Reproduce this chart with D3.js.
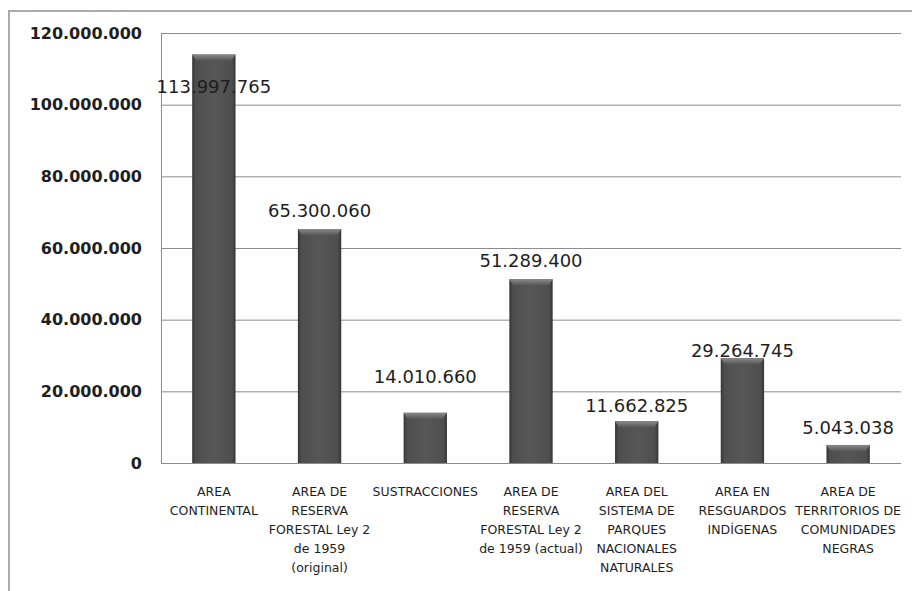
<!DOCTYPE html>
<meta charset="utf-8">

<style>
    body { margin: 0; background: #fff; }
    .chart text { fill: #1e1e1e; }
    .tick-label { font: bold 16px "DejaVu Sans", sans-serif; fill: #262626; }
    .value-label { font: 18px "DejaVu Sans", sans-serif; }
    .cat-label { font: 12.5px "DejaVu Sans", sans-serif; fill: #2a2a2a; }
</style>

<body>
<svg class="chart"></svg>
<script src="https://d3js.org/d3.v7.min.js"></script>

<script type="text/javascript">

    // data
    var categories = [
        ["AREA", "CONTINENTAL"],
        ["AREA DE", "RESERVA", "FORESTAL Ley 2", "de 1959", "(original)"],
        ["SUSTRACCIONES"],
        ["AREA DE", "RESERVA", "FORESTAL Ley 2", "de 1959 (actual)"],
        ["AREA DEL", "SISTEMA DE", "PARQUES", "NACIONALES", "NATURALES"],
        ["AREA EN", "RESGUARDOS", "INDÍGENAS"],
        ["AREA DE", "TERRITORIOS DE", "COMUNIDADES", "NEGRAS"]
    ];
    var values = [113997765, 65300060, 14010660, 51289400, 11662825, 29264745, 5043038];
    var yTicks = [0, 20000000, 40000000, 60000000, 80000000, 100000000, 120000000];

    // label baseline offsets above bar tops (as placed in the original)
    var labelLift = [-38, 12, 30, 12, 9, 1, 11];

    var w = 912, h = 591;
    var plot = {left: 161, right: 901, top: 33, bottom: 463};

    var fmt = function (v) {
        return d3.format(",")(v).replace(/,/g, ".");
    };

    var chart = d3.select(".chart")
        .attr("width", w)
        .attr("height", h);

    // outer frame (left and top edges only visible)
    chart.append("path")
        .attr("d", "M9,591 V11 H912")
        .attr("fill", "none")
        .attr("stroke", "#ababab")
        .attr("stroke-width", 2);

    var x = d3.scaleBand()
        .domain(d3.range(values.length))
        .range([plot.left, plot.right])
        .paddingInner(0.59)
        .paddingOuter(0.295);

    var y = d3.scaleLinear()
        .domain([0, 120000000])
        .range([plot.bottom, plot.top]);

    // gradients for the bevelled bars
    var defs = chart.append("defs");
    var g1 = defs.append("linearGradient").attr("id", "barfill")
        .attr("x1", 0).attr("x2", 1).attr("y1", 0).attr("y2", 0);
    [[0, "#353535"], [0.08, "#4e4e4e"], [0.5, "#575757"], [0.92, "#4e4e4e"], [1, "#353535"]]
        .forEach(function (s) { g1.append("stop").attr("offset", s[0]).attr("stop-color", s[1]); });
    var g2 = defs.append("linearGradient").attr("id", "bevel")
        .attr("x1", 0).attr("x2", 0).attr("y1", 0).attr("y2", 1);
    [[0, "#8a8a8a"], [1, "#585858"]]
        .forEach(function (s) { g2.append("stop").attr("offset", s[0]).attr("stop-color", s[1]); });

    // grid lines
    chart.append("g")
        .selectAll("line")
        .data(yTicks.slice(1))
        .enter().append("line")
        .attr("x1", plot.left).attr("x2", plot.right)
        .attr("y1", function (d) { return y(d) + 0.5; })
        .attr("y2", function (d) { return y(d) + 0.5; })
        .attr("stroke", "#8c8c8c")
        .attr("stroke-width", 1);

    // plot area left edge and x axis line
    chart.append("line")
        .attr("x1", plot.left + 0.5).attr("x2", plot.left + 0.5)
        .attr("y1", plot.top).attr("y2", plot.bottom)
        .attr("stroke", "#8c8c8c");
    chart.append("line")
        .attr("x1", plot.left).attr("x2", plot.right)
        .attr("y1", plot.bottom + 0.5).attr("y2", plot.bottom + 0.5)
        .attr("stroke", "#8c8c8c");

    // y tick labels
    chart.append("g")
        .selectAll("text")
        .data(yTicks)
        .enter().append("text")
        .attr("class", "tick-label")
        .attr("x", 142)
        .attr("y", function (d) { return y(d); })
        .attr("dy", "0.36em")
        .attr("text-anchor", "end")
        .text(function (d) { return fmt(d); });

    // bars
    var bars = chart.append("g")
        .selectAll("g")
        .data(values)
        .enter().append("g");

    bars.append("rect")
        .attr("x", function (d, i) { return x(i); })
        .attr("y", function (d) { return y(d); })
        .attr("width", x.bandwidth())
        .attr("height", function (d) { return plot.bottom - y(d); })
        .attr("fill", "url(#barfill)");

    bars.append("path")
        .attr("d", function (d, i) {
            var x0 = x(i), x1 = x(i) + x.bandwidth(), t = y(d), b = 6;
            return "M" + x0 + "," + t + "H" + x1 + "L" + (x1 - 4) + "," + (t + b) +
                "H" + (x0 + 4) + "Z";
        })
        .attr("fill", "url(#bevel)");

    // value labels
    chart.append("g")
        .selectAll("text")
        .data(values)
        .enter().append("text")
        .attr("class", "value-label")
        .attr("x", function (d, i) { return x(i) + x.bandwidth() / 2; })
        .attr("y", function (d, i) { return y(d) - labelLift[i]; })
        .attr("text-anchor", "middle")
        .text(function (d) { return fmt(d); });

    // category labels
    var cats = chart.append("g")
        .selectAll("text")
        .data(categories)
        .enter().append("text")
        .attr("class", "cat-label")
        .attr("text-anchor", "middle")
        .attr("transform", function (d, i) {
            return "translate(" + (x(i) + x.bandwidth() / 2) + ",496)";
        });

    cats.selectAll("tspan")
        .data(function (d) { return d; })
        .enter().append("tspan")
        .attr("x", 0)
        .attr("y", function (d, j) { return j * 19; })
        .text(function (d) { return d; });

</script>

</body>
